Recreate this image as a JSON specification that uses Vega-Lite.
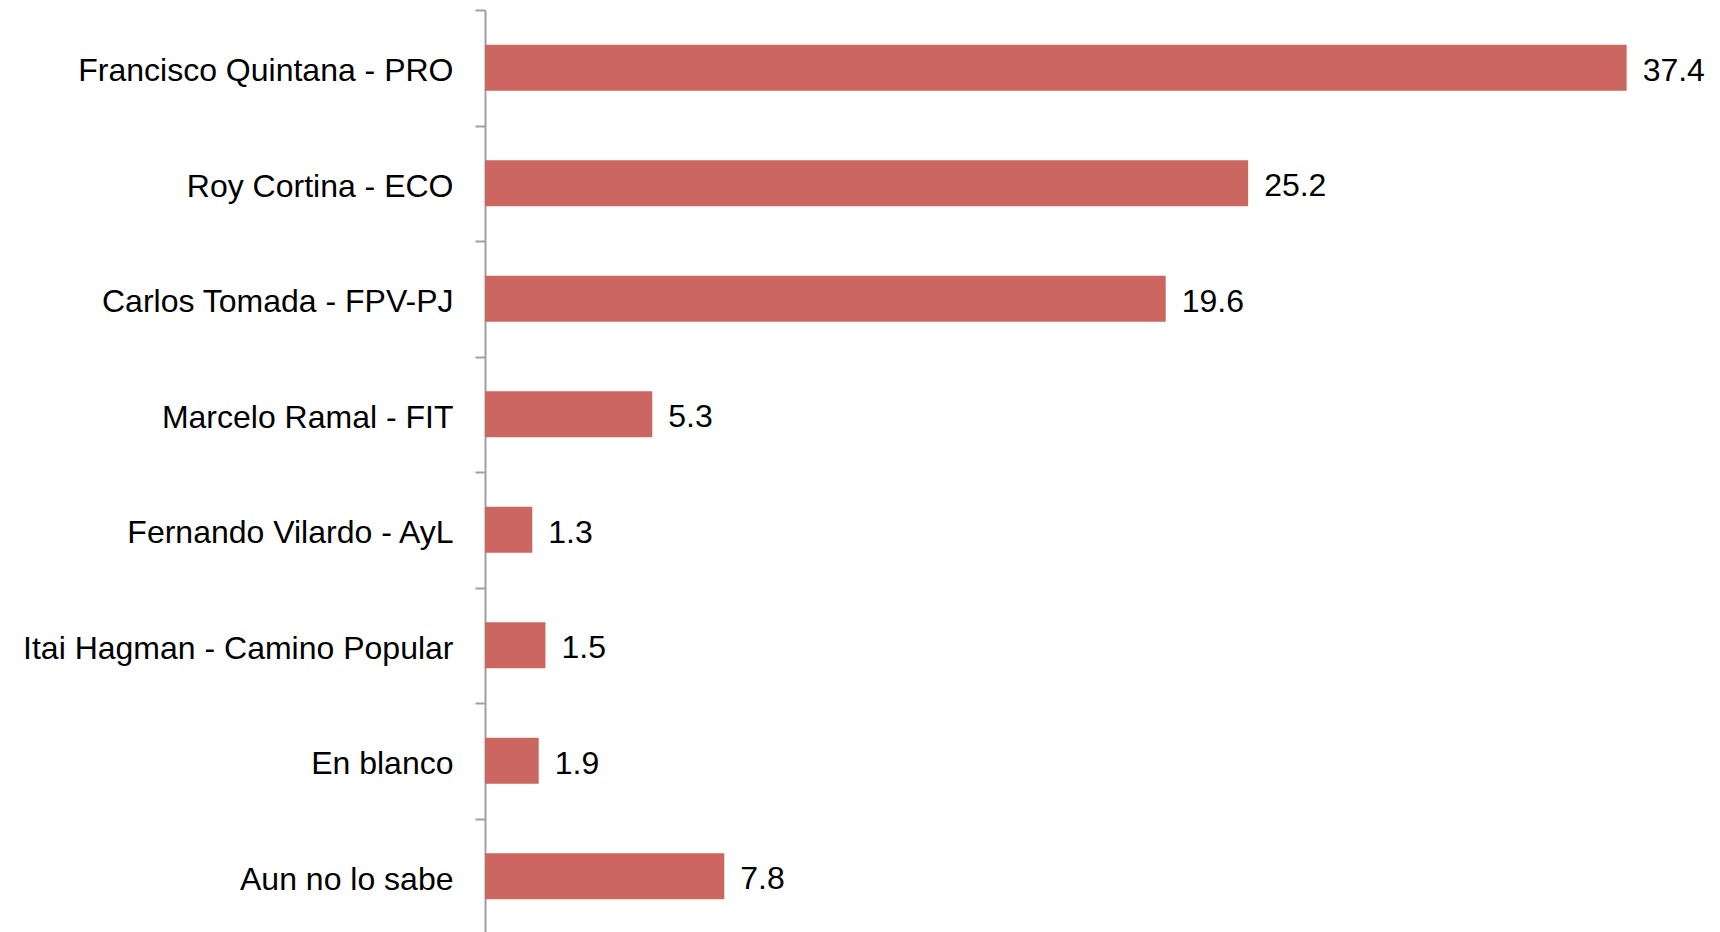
{
  "$schema": "https://vega.github.io/schema/vega-lite/v6.json",
  "width": 1221,
  "height": 924,
  "autosize": {"type": "none"},
  "padding": {"left": 485, "top": 10, "right": 0, "bottom": 0},
  "background": "white",
  "config": {"view": {"stroke": null}, "font": "Liberation Sans"},
  "data": {
    "values": [
      {"candidato": "Francisco Quintana - PRO", "valor": 37.4, "etiqueta": "37.4"},
      {"candidato": "Roy Cortina - ECO", "valor": 25.0, "etiqueta": "25.2"},
      {"candidato": "Carlos Tomada - FPV-PJ", "valor": 22.3, "etiqueta": "19.6"},
      {"candidato": "Marcelo Ramal - FIT", "valor": 5.48, "etiqueta": "5.3"},
      {"candidato": "Fernando Vilardo - AyL", "valor": 1.55, "etiqueta": "1.3"},
      {"candidato": "Itai Hagman - Camino Popular", "valor": 1.98, "etiqueta": "1.5"},
      {"candidato": "En blanco", "valor": 1.76, "etiqueta": "1.9"},
      {"candidato": "Aun no lo sabe", "valor": 7.84, "etiqueta": "7.8"}
    ]
  },
  "encoding": {
    "y": {
      "field": "candidato",
      "type": "nominal",
      "sort": null,
      "scale": {"paddingInner": 0, "paddingOuter": 0},
      "axis": {
        "title": null,
        "tickBand": "extent",
        "domainColor": "#a0a0a0",
        "domainWidth": 2,
        "tickColor": "#a0a0a0",
        "tickWidth": 2,
        "tickSize": 10,
        "labelPadding": 22,
        "labelOffset": 3,
        "labelFontSize": 32,
        "labelFont": "Liberation Sans",
        "labelColor": "#000000",
        "labelLimit": 1000
      }
    },
    "x": {
      "field": "valor",
      "type": "quantitative",
      "scale": {"domain": [0, 40], "nice": false},
      "axis": null
    }
  },
  "layer": [
    {
      "mark": {"type": "bar", "color": "#cc6660", "height": {"band": 0.4}}
    },
    {
      "mark": {"type": "text", "align": "left", "baseline": "middle", "dx": 16, "dy": 3, "fontSize": 32, "font": "Liberation Sans", "color": "#000000"},
      "encoding": {"text": {"field": "etiqueta"}}
    }
  ]
}
